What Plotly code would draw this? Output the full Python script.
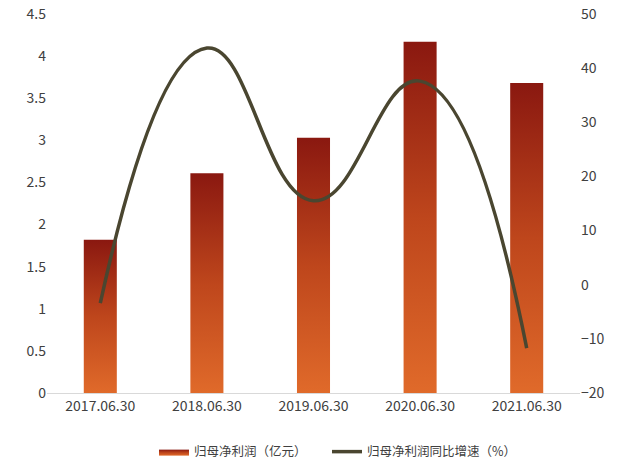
import plotly.graph_objects as go

categories = ["2017.06.30", "2018.06.30", "2019.06.30", "2020.06.30", "2021.06.30"]
profit = [1.82, 2.61, 3.03, 4.17, 3.68]
growth = [-3.4, 43.7, 15.5, 37.6, -11.7]
bar_name = "归母净利润（亿元）"
line_name = "归母净利润同比增速（%）"

FONT = "Noto Sans CJK SC, Open Sans, sans-serif"
half = 0.155
xs = list(range(len(categories)))

fig = go.Figure()
for i, (x, v) in enumerate(zip(xs, profit)):
    fig.add_trace(go.Scatter(
        x=[x - half, x + half, x + half, x - half, x - half],
        y=[0, 0, v, v, 0],
        mode="lines", fill="toself",
        line=dict(width=0, color="rgba(0,0,0,0)"),
        fillgradient=dict(type="vertical",
                          colorscale=[[0, "#E06A2A"], [0.5, "#BE461C"], [1, "#8A1810"]]),
        name=bar_name, legendgroup="bar", showlegend=(i == 0), legend="legend",
        hoverinfo="skip",
    ))

fig.add_trace(go.Scatter(
    x=xs, y=growth, mode="lines", name=line_name, legend="legend2",
    line=dict(color="#4A4630", width=3.5, shape="spline", smoothing=1.3),
    yaxis="y2",
))

leg_common = dict(orientation="h", xref="container", yref="container", xanchor="left",
                  y=0.0444, yanchor="middle", bgcolor="rgba(0,0,0,0)",
                  font=dict(size=12.5, color="#404040"), itemwidth=30)

fig.update_layout(
    width=627, height=473,
    margin=dict(l=47, r=47, t=14, b=80, autoexpand=False),
    paper_bgcolor="white", plot_bgcolor="white",
    font=dict(family=FONT, size=14, color="#404040"),
    xaxis=dict(range=[-0.5, 4.5], tickvals=xs, ticktext=categories, automargin=False,
               showgrid=False, zeroline=False, showline=True, linecolor="#D9D9D9",
               linewidth=1, ticks="", tickfont=dict(size=14, color="#404040")),
    yaxis=dict(range=[0, 4.5], dtick=0.5, showgrid=False, zeroline=False, automargin=False,
               showline=False, ticks="", ticklabeloverflow="allow",
               tickfont=dict(size=14, color="#404040")),
    yaxis2=dict(range=[-20, 50], dtick=10, overlaying="y", side="right", automargin=False,
                showgrid=False, zeroline=False, showline=False, ticks="",
                ticklabeloverflow="allow",
                tickfont=dict(size=14, color="#404040")),
    legend=dict(x=0.2456, **leg_common),
    legend2=dict(x=0.5215, **leg_common),
    showlegend=True,
)

fig.write_html("out.html", config={"displayModeBar": False},
               post_script="document.body.style.margin='0';")
